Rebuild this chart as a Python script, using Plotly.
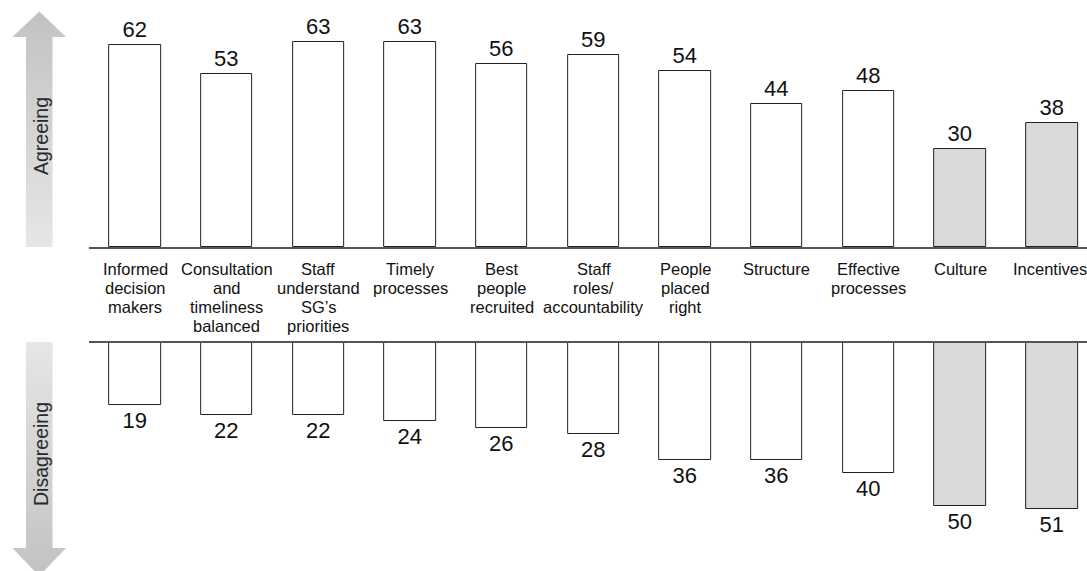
import plotly.graph_objects as go

categories = ["Informed<br>decision<br>makers",
              "Consultation<br>and<br>timeliness<br>balanced",
              "Staff<br>understand<br>SG’s<br>priorities",
              "Timely<br>processes",
              "Best<br>people<br>recruited",
              "Staff<br>roles/<br>accountability",
              "People<br>placed<br>right",
              "Structure",
              "Effective<br>processes",
              "Culture",
              "Incentives"]
agree = [62, 53, 63, 63, 56, 59, 54, 44, 48, 30, 38]
disagree = [19, 22, 22, 24, 26, 28, 36, 36, 40, 50, 51]
highlight = [False] * 9 + [True, True]

W, H = 1087, 571
x_idx = list(range(len(categories)))
fills = ["#d9d9db" if h else "#ffffff" for h in highlight]

fig = go.Figure()

bar_style = dict(width=0.56, marker=dict(color=fills, line=dict(color="#222222", width=1)),
                 textposition="outside", cliponaxis=False,
                 textfont=dict(family="Liberation Sans, Arial", size=22, color="#111111"),
                 showlegend=False, hoverinfo="skip")

fig.add_trace(go.Bar(x=x_idx, y=agree, text=[str(v) for v in agree],
                     xaxis="x", yaxis="y", **bar_style))
fig.add_trace(go.Bar(x=x_idx, y=disagree, text=[str(v) for v in disagree],
                     xaxis="x2", yaxis="y2", **bar_style))

# decorative gradient arrows (pixel overlay axes)
def arrow(pts, top_y, bot_y, c_top, c_bot):
    xs = [p[0] for p in pts] + [pts[0][0]]
    ys = [H - p[1] for p in pts] + [H - pts[0][1]]
    return go.Scatter(x=xs, y=ys, xaxis="x3", yaxis="y3", mode="lines",
                      line=dict(width=0, color="rgba(0,0,0,0)"), fill="toself",
                      fillgradient=dict(type="vertical",
                                        colorscale=[[0, c_bot], [1, c_top]],
                                        start=H - bot_y, stop=H - top_y),
                      showlegend=False, hoverinfo="skip")

up_pts = [(39.3, 11.5), (66, 37), (52.5, 37), (52.5, 247), (26, 247), (26, 37), (12.3, 37)]
fig.add_trace(arrow(up_pts, 11.5, 247, "#c2c2c2", "#e6e6e6"))
down_pts = [(26, 342), (52.5, 342), (52.5, 548), (66, 548), (39.3, 576), (12.3, 548), (26, 548)]
fig.add_trace(arrow(down_pts, 342, 576, "#e6e6e6", "#c2c2c2"))

left_px, base_top, base_bot = 89.15, 247, 343
scale = 3.26
xr = [-0.5, (W - 135) / 91.7]

annotations = []
for i, lab in enumerate(categories):
    for j, line in enumerate(lab.split("<br>")):
        annotations.append(dict(x=i, xref="x", y=(H - (268.5 + 19.2 * j)) / H, yref="paper",
                                text=line, showarrow=False, xanchor="center", yanchor="middle",
                                xshift=-2 if i == len(categories) - 1 else 0,
                                font=dict(family="Liberation Sans, Arial", size=16.5, color="#111111")))
annotations.append(dict(x=41 / W, y=(H - 136) / H, xref="paper", yref="paper", text="Agreeing",
                        textangle=-90, showarrow=False, xanchor="center", yanchor="middle",
                        font=dict(family="Liberation Sans, Arial", size=19.5, color="#2a2a2a")))
annotations.append(dict(x=41 / W, y=(H - 454) / H, xref="paper", yref="paper", text="Disagreeing",
                        textangle=-90, showarrow=False, xanchor="center", yanchor="middle",
                        font=dict(family="Liberation Sans, Arial", size=19.5, color="#2a2a2a")))

fig.update_layout(
    width=W, height=H, autosize=False,
    margin=dict(l=0, r=0, t=0, b=0, pad=0),
    paper_bgcolor="white", plot_bgcolor="rgba(0,0,0,0)",
    bargap=0,
    xaxis=dict(domain=[left_px / W, 1], range=xr, anchor="y", showline=True, linecolor="#555555",
               linewidth=1.5, showgrid=False, zeroline=False, showticklabels=False, ticks=""),
    yaxis=dict(domain=[(H - base_top) / H, 1], range=[0, base_top / scale], anchor="x", visible=False),
    xaxis2=dict(domain=[left_px / W, 1], range=xr, anchor="y2", side="top", showline=True,
                linecolor="#555555", linewidth=1.5, showgrid=False, zeroline=False,
                showticklabels=False, ticks=""),
    yaxis2=dict(domain=[0, (H - base_bot) / H], range=[(H - base_bot) / scale, 0], anchor="x2",
                visible=False),
    xaxis3=dict(domain=[0, 1], range=[0, W], anchor="y3", visible=False),
    yaxis3=dict(domain=[0, 1], range=[0, H], anchor="x3", visible=False),
    annotations=annotations,
)

fig.write_html("out.html", config={"displayModeBar": False},
               post_script="document.body.style.margin='0px';document.body.style.overflow='hidden';")
